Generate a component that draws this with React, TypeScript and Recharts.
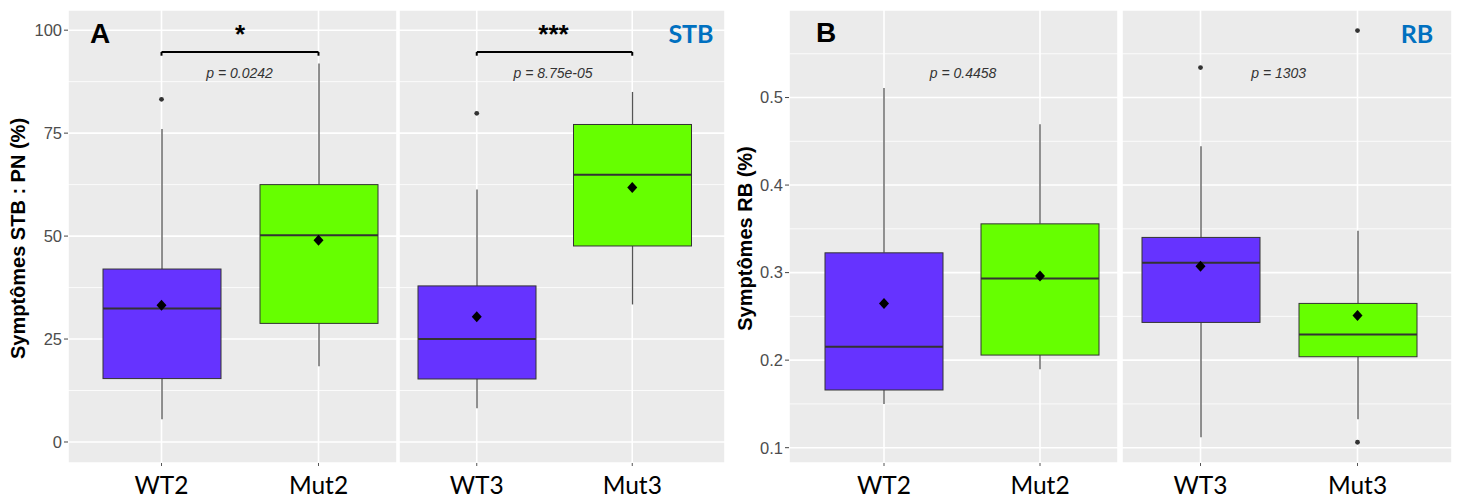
import React from "react";
import {
  ComposedChart,
  Bar,
  Scatter,
  XAxis,
  YAxis,
  CartesianGrid,
  ReferenceLine,
} from "recharts";

// groups, in facet order
const groups = ["WT2", "Mut2", "WT3", "Mut3"];
const fills = ["#6633FF", "#66FF00", "#6633FF", "#66FF00"];

// A : Symptômes STB : PN (%)
const stbLow = [5.5, 18.4, 8.2, 33.4];
const stbQ1 = [15.4, 28.8, 15.3, 47.6];
const stbMedian = [32.4, 50.2, 25.0, 64.9];
const stbQ3 = [42.0, 62.5, 37.9, 77.1];
const stbHigh = [76.0, 91.9, 61.3, 85.0];
const stbMean = [33.2, 49.0, 30.4, 61.8];
const stbOutliers = [
  { grp: "WT2", val: 83.2 },
  { grp: "WT3", val: 79.8 },
];
const stbTicks = [0, 25, 50, 75, 100];
const stbMinor = [12.5, 37.5, 62.5, 87.5];
const stbDomain = [-5.1, 104.9];
const stbBracket = 94.7;

// B : Symptômes RB (%)
const rbLow = [0.1499, 0.1895, 0.1119, 0.1324];
const rbQ1 = [0.1659, 0.2058, 0.2431, 0.2039];
const rbMedian = [0.2153, 0.2934, 0.3112, 0.2294];
const rbQ3 = [0.3226, 0.3557, 0.3402, 0.2648];
const rbHigh = [0.511, 0.4695, 0.4444, 0.3477];
const rbMean = [0.2648, 0.296, 0.3074, 0.2511];
const rbOutliers = [
  { grp: "WT3", val: 0.5342 },
  { grp: "Mut3", val: 0.5765 },
  { grp: "Mut3", val: 0.1062 },
];
const rbTicks = [0.1, 0.2, 0.3, 0.4, 0.5];
const rbMinor = [0.15, 0.25, 0.35, 0.45, 0.55];
const rbDomain = [0.0825, 0.6];

const buildRows = (low, q1, med, q3, high, mean) =>
  groups.map((g, i) => ({
    grp: g,
    range: [low[i], high[i]],
    q1: q1[i],
    med: med[i],
    q3: q3[i],
    mean: mean[i],
    fill: fills[i],
  }));

const stbRows = buildRows(stbLow, stbQ1, stbMedian, stbQ3, stbHigh, stbMean);
const rbRows = buildRows(rbLow, rbQ1, rbMedian, rbQ3, rbHigh, rbMean);

const SANS = "'Liberation Sans', Arial, sans-serif";
const LABEL_FONT = "Lato, 'Open Sans', sans-serif";

// box drawn inside the whisker range bar, same linear scale
const BoxShape = (props: any) => {
  const { x, y, width, height, payload } = props;
  const [lo, hi] = payload.range;
  const top = Math.min(y, y + height);
  const bot = Math.max(y, y + height);
  const py = (v: number) => top + ((hi - v) / (hi - lo)) * (bot - top);
  const cx = x + width / 2;
  const yq3 = py(payload.q3);
  const yq1 = py(payload.q1);
  const ym = py(payload.med);
  return (
    <g>
      <line x1={cx} x2={cx} y1={top} y2={yq3} stroke="#555" strokeWidth={1.3} />
      <line x1={cx} x2={cx} y1={yq1} y2={bot} stroke="#555" strokeWidth={1.3} />
      <rect x={x} y={yq3} width={width} height={yq1 - yq3} fill={payload.fill} stroke="#333" strokeWidth={1} />
      <line x1={x} x2={x + width} y1={ym} y2={ym} stroke="#333" strokeWidth={2} />
    </g>
  );
};

const Diamond = (p: any) => (
  <polygon
    points={`${p.cx},${p.cy - 5.5} ${p.cx + 5},${p.cy} ${p.cx},${p.cy + 5.5} ${p.cx - 5},${p.cy}`}
    fill="#000"
  />
);

const Dot = (p: any) => <circle cx={p.cx} cy={p.cy} r={2.4} fill="#333" />;

const XTick = (p: any) => (
  <text x={p.x} y={p.y} dy={26} textAnchor="middle" fontFamily={LABEL_FONT} fontSize={24.5} fill="#000">
    {p.payload.value}
  </text>
);

const YTitle = (p: any) => {
  const vb = p.viewBox;
  const cx = vb.x + 18;
  const cy = vb.y + vb.height / 2 + 2;
  return (
    <text
      x={cx}
      y={cy}
      transform={`rotate(-90 ${cx} ${cy})`}
      textAnchor="middle"
      dominantBaseline="central"
      fontFamily={SANS}
      fontWeight="bold"
      fontSize={20}
      fill="#000"
    >
      {p.value}
    </text>
  );
};

function Facet(props: any) {
  const { rows, outliers, left, width, yWidth, domain, ticks, minor, padding, title, bracket } = props;
  const g0 = rows[0].grp;
  const g1 = rows[1].grp;
  return (
    <div style={{ position: "absolute", left, top: 0 }}>
      <ComposedChart width={width} height={500} data={rows} margin={{ top: 10, right: 0, bottom: 0, left: 0 }}>
        <CartesianGrid fill="#EBEBEB" stroke="#fff" strokeWidth={1.6} />
        <CartesianGrid horizontalValues={minor} vertical={false} stroke="#fff" strokeWidth={0.8} />
        <XAxis
          dataKey="grp"
          allowDuplicatedCategory={false}
          padding={padding}
          height={37}
          axisLine={false}
          tickSize={3}
          tickLine={{ stroke: "#555" }}
          tick={<XTick />}
          interval={0}
        />
        <YAxis
          type="number"
          domain={domain}
          ticks={ticks}
          allowDataOverflow
          hide={!yWidth}
          width={yWidth || 0}
          axisLine={false}
          tickSize={4}
          tickLine={{ stroke: "#444" }}
          tick={{ fill: "#4d4d4d", fontSize: 16.5, fontFamily: SANS }}
          label={title ? <YTitle value={title} /> : undefined}
        />
        <Bar dataKey="range" barSize={118} shape={<BoxShape />} isAnimationActive={false} />
        <Scatter dataKey="mean" shape={<Diamond />} isAnimationActive={false} />
        <Scatter data={outliers} dataKey="val" shape={<Dot />} isAnimationActive={false} />
        {bracket !== undefined && (
          <ReferenceLine segment={[{ x: g0, y: bracket }, { x: g1, y: bracket }]} stroke="#000" strokeWidth={2} />
        )}
        {bracket !== undefined && (
          <ReferenceLine segment={[{ x: g0, y: bracket }, { x: g0, y: bracket - 0.9 }]} stroke="#000" strokeWidth={2} />
        )}
        {bracket !== undefined && (
          <ReferenceLine segment={[{ x: g1, y: bracket }, { x: g1, y: bracket - 0.9 }]} stroke="#000" strokeWidth={2} />
        )}
      </ComposedChart>
    </div>
  );
}

const pStyle = { fontFamily: SANS, fontStyle: "italic", fontSize: 14, fill: "#333" } as const;
const tagStyle = { fontFamily: LABEL_FONT, fontWeight: 700, fontSize: 25, fill: "#0070C0" } as const;
const letterStyle = { fontFamily: SANS, fontWeight: 700, fontSize: 28, fill: "#000" } as const;

export default function App() {
  return (
    <div style={{ position: "absolute", left: 0, top: 0, width: 1461, height: 500, background: "#fff", overflow: "hidden" }}>
      <Facet
        rows={stbRows.slice(0, 2)}
        outliers={stbOutliers.filter((o) => o.grp === "WT2" || o.grp === "Mut2")}
        left={0}
        width={397}
        yWidth={68}
        domain={stbDomain}
        ticks={stbTicks}
        minor={stbMinor}
        padding={{ left: 15, right: 0 }}
        title="Symptômes STB : PN (%)"
        bracket={stbBracket}
      />
      <Facet
        rows={stbRows.slice(2, 4)}
        outliers={stbOutliers.filter((o) => o.grp === "WT3" || o.grp === "Mut3")}
        left={399}
        width={326}
        domain={stbDomain}
        ticks={stbTicks}
        minor={stbMinor}
        padding={{ left: 0, right: 15 }}
        bracket={stbBracket}
      />
      <Facet
        rows={rbRows.slice(0, 2)}
        outliers={rbOutliers.filter((o) => o.grp === "WT2" || o.grp === "Mut2")}
        left={727}
        width={391}
        yWidth={62}
        domain={rbDomain}
        ticks={rbTicks}
        minor={rbMinor}
        padding={{ left: 17, right: 0 }}
        title="Symptômes RB (%)"
      />
      <Facet
        rows={rbRows.slice(2, 4)}
        outliers={rbOutliers.filter((o) => o.grp === "WT3" || o.grp === "Mut3")}
        left={1122}
        width={330}
        domain={rbDomain}
        ticks={rbTicks}
        minor={rbMinor}
        padding={{ left: 0, right: 16 }}
      />
      <svg width={1461} height={500} style={{ position: "absolute", left: 0, top: 0, pointerEvents: "none" }}>
        <text x={100} y={42.5} textAnchor="middle" {...letterStyle}>A</text>
        <text x={826} y={42} textAnchor="middle" {...letterStyle}>B</text>
        <text x={240} y={43} textAnchor="middle" fontFamily={SANS} fontWeight="bold" fontSize={26} fill="#000">*</text>
        <text x={553.5} y={43} textAnchor="middle" fontFamily={SANS} fontWeight="bold" fontSize={26} fill="#000">***</text>
        <text x={239.5} y={78} textAnchor="middle" {...pStyle}>p = 0.0242</text>
        <text x={553} y={78} textAnchor="middle" {...pStyle}>p = 8.75e-05</text>
        <text x={963} y={78} textAnchor="middle" {...pStyle}>p = 0.4458</text>
        <text x={1278.7} y={78} textAnchor="middle" {...pStyle}>p = 1303</text>
        <text x={691} y={43} textAnchor="middle" {...tagStyle}>STB</text>
        <text x={1417} y={43} textAnchor="middle" {...tagStyle}>RB</text>
      </svg>
    </div>
  );
}
